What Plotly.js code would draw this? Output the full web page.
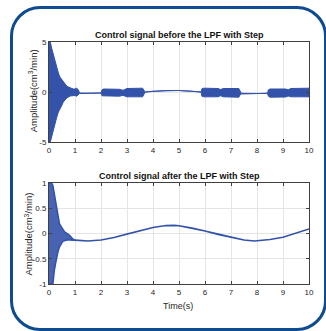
<!DOCTYPE html>
<html>
<head>
<meta charset="utf-8">
<script src="https://cdn.plot.ly/plotly-3.0.1.min.js"></script>
<style>
  html, body { margin: 0; padding: 0; background: #ffffff; }
  #wrap { position: relative; width: 326px; height: 331px; overflow: hidden; }
  #chart { width: 326px; height: 331px; }
  #frame {
    position: absolute; left: 9.5px; top: 5.5px; width: 317px; height: 325px;
    box-sizing: border-box; border: 3px solid #0f4c8f; border-radius: 30px;
    pointer-events: none;
  }
</style>
</head>
<body>
<div id="wrap"><div id="chart"></div><div id="frame"></div></div>
<script>
// Control signal before the low-pass filter: envelope of the fast oscillation (upper / lower)
const tRaw  = [0, 0.05, 0.1, 0.17, 0.23, 0.29, 0.36, 0.42, 0.5, 0.55, 0.62, 0.68, 0.75, 0.81, 0.88, 0.94, 1.0, 1.06, 1.12, 1.16,
               1.2, 1.5, 2.0, 2.04, 2.1, 2.7, 2.85, 3.0, 3.6, 3.67,
               3.7, 4.0, 4.5, 5.0, 5.5, 5.85, 5.88, 5.95, 6.5, 6.6, 6.7, 7.3, 7.37,
               7.4, 8.0, 8.4, 8.44, 8.5, 9.1, 9.2, 9.3, 9.9, 10.0];
const upRaw = [5, 5, 4.4, 3.7, 3.0, 2.4, 1.9, 1.5, 1.2, 1.0, 0.8, 0.6, 0.5, 0.4, 0.35, 0.3, 0.3, 0.38, 0.25, 0.0,
               -0.1, -0.12, -0.1, 0.22, 0.3, 0.27, 0.17, 0.35, 0.38, 0.1,
               0.0, 0.08, 0.15, 0.15, 0.08, 0.0, 0.32, 0.38, 0.35, 0.24, 0.35, 0.35, 0.0,
               -0.13, -0.15, -0.13, 0.22, 0.3, 0.3, 0.22, 0.35, 0.38, 0.38];
const loRaw = [-5, -5, -4.6, -4.0, -3.2, -2.6, -2.0, -1.7, -1.3, -1.0, -0.8, -0.6, -0.5, -0.4, -0.35, -0.35, -0.35, -0.42, -0.3, -0.15,
               -0.1, -0.12, -0.1, -0.38, -0.45, -0.42, -0.34, -0.48, -0.48, -0.15,
               0.0, 0.08, 0.15, 0.15, 0.08, 0.0, -0.42, -0.48, -0.48, -0.37, -0.48, -0.52, -0.2,
               -0.13, -0.15, -0.13, -0.42, -0.52, -0.5, -0.4, -0.48, -0.48, -0.48];

// Control signal after the low-pass filter: envelope, collapsing onto the slow wave after ~1 s
const tFilt  = [0, 0.03, 0.1, 0.15, 0.2, 0.25, 0.3, 0.35, 0.4, 0.45, 0.5, 0.55, 0.6, 0.7, 0.8, 0.9,
                1.0, 1.5, 2.0, 2.5, 3.0, 3.5, 4.0, 4.5, 4.8, 5.0, 5.5, 6.0, 6.5, 7.0, 7.5, 7.9, 8.5, 9.0, 9.5, 10.0];
const upFilt = [1, 1, 1, 0.95, 0.8, 0.6, 0.45, 0.3, 0.2, 0.15, 0.1, 0.07, 0.03, 0.0, -0.04, -0.1,
                -0.13, -0.15, -0.13, -0.08, -0.01, 0.06, 0.12, 0.16, 0.165, 0.155, 0.11, 0.05, -0.02, -0.08, -0.13, -0.15, -0.12, -0.075, 0.0, 0.09];
const loFilt = [-1, -1, -1, -1, -0.75, -0.6, -0.45, -0.35, -0.27, -0.22, -0.18, -0.15, -0.14, -0.13, -0.13, -0.12,
                -0.13, -0.15, -0.13, -0.08, -0.01, 0.06, 0.12, 0.16, 0.165, 0.155, 0.11, 0.05, -0.02, -0.08, -0.13, -0.15, -0.12, -0.075, 0.0, 0.09];

const xTicks = [0, 1, 2, 3, 4, 5, 6, 7, 8, 9, 10];
const yTicksRaw = [-5, 0, 5];
const yTextRaw = ['-5', '0', '5'];
const yTicksFilt = [-1, -0.5, 0, 0.5, 1];
const yTextFilt = ['-1', '-0.5', '0', '0.5', '1'];

const blue = '#3352aa';
const font = 'Liberation Sans, Arial, sans-serif';

// closed band: upper edge forward, lower edge back
function band(t, up, lo, xa, ya, fillcolor, width) {
  return {
    x: t.concat(t.slice().reverse()),
    y: up.concat(lo.slice().reverse()),
    xaxis: xa, yaxis: ya,
    type: 'scatter', mode: 'lines', fill: 'toself',
    fillcolor: fillcolor,
    line: { color: blue, width: width, shape: 'linear' },
    hoverinfo: 'skip', showlegend: false
  };
}

const data = [
  band(tRaw, upRaw, loRaw, 'x', 'y', blue, 1),
  band(tFilt, upFilt, loFilt, 'x2', 'y2', 'rgba(51,82,170,0.9)', 1.5)
];

const axisCommon = {
  showline: true, mirror: 'ticks', linecolor: '#404040', linewidth: 1,
  ticks: 'inside', ticklen: 3, tickcolor: '#404040', tickwidth: 1,
  showgrid: true, gridcolor: '#e4e4e4', gridwidth: 1, zeroline: false,
  tickfont: { family: font, size: 8, color: '#262626' }
};

const W = 260, H = 242, L = 49, T = 42;
const px = x => (x - L) / W;
const py = y => (T + H - y) / H;

const layout = {
  width: 326, height: 331,
  margin: { l: 49, r: 17, t: 42, b: 47 },
  paper_bgcolor: '#ffffff', plot_bgcolor: '#ffffff',
  font: { family: font, size: 8, color: '#262626' },
  showlegend: false,
  xaxis: Object.assign({}, axisCommon, { domain: [0, 1], range: [0, 10], tickvals: xTicks, anchor: 'y' }),
  yaxis: Object.assign({}, axisCommon, { domain: [0.5868, 1], range: [-5, 5], tickvals: yTicksRaw, ticktext: yTextRaw, anchor: 'x' }),
  xaxis2: Object.assign({}, axisCommon, { domain: [0, 1], range: [0, 10], tickvals: xTicks, anchor: 'y2' }),
  yaxis2: Object.assign({}, axisCommon, { domain: [0, 0.4174], range: [-1, 1], tickvals: yTicksFilt, ticktext: yTextFilt, anchor: 'x2' }),
  annotations: [
    { text: '<b>Control signal before the LPF with Step</b>', xref: 'paper', yref: 'paper',
      x: px(179), y: py(35.5), xanchor: 'center', yanchor: 'middle', showarrow: false,
      font: { family: font, size: 9, color: '#111' } },
    { text: '<b>Control signal after the LPF with Step</b>', xref: 'paper', yref: 'paper',
      x: px(179), y: py(176), xanchor: 'center', yanchor: 'middle', showarrow: false,
      font: { family: font, size: 9, color: '#111' } },
    { text: 'Time(s)', xref: 'paper', yref: 'paper',
      x: px(178), y: py(305.5), xanchor: 'center', yanchor: 'middle', showarrow: false,
      font: { family: font, size: 9, color: '#262626' } },
    { text: 'Amplitude(cm<sup>3</sup>/min)', xref: 'paper', yref: 'paper', textangle: -90,
      x: px(33.3), y: py(91), xanchor: 'center', yanchor: 'middle', showarrow: false,
      font: { family: font, size: 9.5, color: '#262626' } },
    { text: 'Amplitude(cm<sup>3</sup>/min)', xref: 'paper', yref: 'paper', textangle: -90,
      x: px(28.5), y: py(234), xanchor: 'center', yanchor: 'middle', showarrow: false,
      font: { family: font, size: 9.5, color: '#262626' } }
  ]
};

Plotly.newPlot('chart', data, layout, { staticPlot: true, displayModeBar: false });
</script>
</body>
</html>
